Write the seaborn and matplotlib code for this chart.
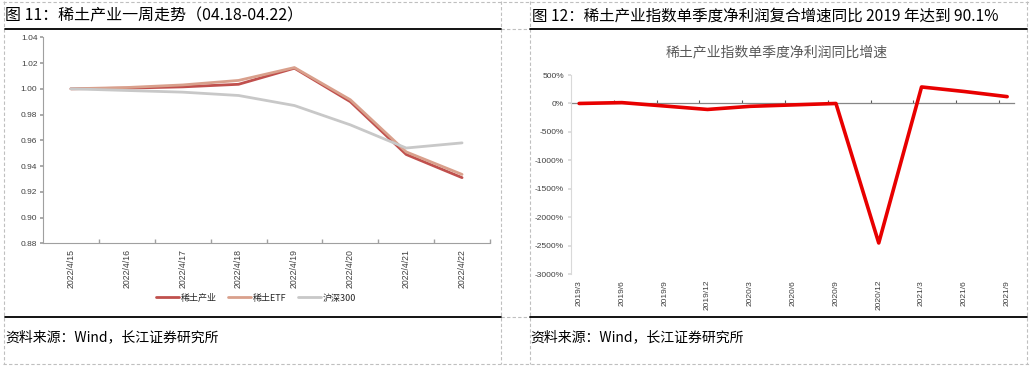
import matplotlib
matplotlib.use("Agg")
import pandas as pd
import seaborn as sns
import matplotlib.pyplot as plt
from matplotlib.lines import Line2D

# 图 11 数据：稀土产业一周走势（归一化）
days = ["2022/4/15", "2022/4/16", "2022/4/17", "2022/4/18",
        "2022/4/19", "2022/4/20", "2022/4/21", "2022/4/22"]
rare_earth = [1.000, 1.0005, 1.0015, 1.0035, 1.016, 0.990, 0.949, 0.931]
rare_earth_etf = [1.000, 1.001, 1.003, 1.0065, 1.0165, 0.9915, 0.951, 0.9335]
hs300 = [1.000, 0.9987, 0.9974, 0.9948, 0.987, 0.972, 0.954, 0.958]
series_names = ["稀土产业", "稀土ETF", "沪深300"]
series_colors = ["#C0504D", "#D9A08C", "#C8C8C8"]

# 图 12 数据：单季度净利润同比增速（%）
quarters = ["2019/3", "2019/6", "2019/9", "2019/12", "2020/3", "2020/6",
            "2020/9", "2020/12", "2021/3", "2021/6", "2021/9"]
profit_yoy = [0, 15, -45, -105, -50, -25, 0, -2450, 290, 210, 120]

W, H = 1032, 369

sns.set_theme(style="white")
plt.rcParams["font.family"] = ["Liberation Sans", "Noto Sans CJK SC", "DejaVu Sans"]
plt.rcParams["axes.unicode_minus"] = False

fig = plt.figure(figsize=(W / 100, H / 100), dpi=100)


def fx(px):
    return px / W


def fy(py):
    return 1 - py / H


def hline(x0, x1, y, **kw):
    fig.add_artist(Line2D([fx(x0), fx(x1)], [fy(y), fy(y)], transform=fig.transFigure, **kw))


def vline(x, y0, y1, **kw):
    fig.add_artist(Line2D([fx(x), fx(x)], [fy(y0), fy(y1)], transform=fig.transFigure, **kw))


# 外框（虚线）
dash = dict(color="#BFBFBF", lw=0.8, ls=(0, (3, 2)))
hline(3, 1029, 1.5, **dash)
hline(3, 1029, 364, **dash)
vline(4, 1, 364, **dash)
vline(501, 1, 364, **dash)
vline(530, 1, 364, **dash)
vline(1027, 1, 364, **dash)
hline(501, 530, 28.5, **dash)
hline(501, 530, 317, **dash)

# 标题与分隔线
cjk = ["Noto Sans CJK SC", "DejaVu Sans"]
fig.text(fx(5), fy(16), "图 11：稀土产业一周走势（04.18-04.22）", fontsize=11.5,
         family=cjk, va="center", ha="left", color="black")
fig.text(fx(532), fy(16), "图 12：稀土产业指数单季度净利润复合增速同比 2019 年达到 90.1%",
         fontsize=11.2, family=cjk, va="center", ha="left", color="black")
hline(5, 501, 28.5, color="black", lw=1.3)
hline(530, 1027, 28.5, color="black", lw=1.3)
hline(5, 501, 317, color="black", lw=1.3)
hline(530, 1027, 317, color="black", lw=1.3)
fig.text(fx(5), fy(337), "资料来源：Wind，长江证券研究所", fontsize=10,
         family=cjk, va="center", ha="left", color="black")
fig.text(fx(530), fy(337), "资料来源：Wind，长江证券研究所", fontsize=10,
         family=cjk, va="center", ha="left", color="black")

# ---------- 左图 ----------
ax1 = fig.add_axes([fx(43), fy(243.3), fx(490) - fx(43), (243.3 - 37.3) / H])
df1 = pd.DataFrame({
    "date": days * 3,
    "value": rare_earth + rare_earth_etf + hs300,
    "series": [n for n in series_names for _ in days],
})
sns.lineplot(data=df1, x="date", y="value", hue="series", hue_order=series_names,
             palette=series_colors, linewidth=2, sort=False, ax=ax1)
ax1.set_xlim(-0.5, len(days) - 0.5)
ax1.set_ylim(0.88, 1.04)
ax1.set_yticks([0.88 + 0.02 * i for i in range(9)])
ax1.set_yticklabels([f"{0.88 + 0.02 * i:.2f}" for i in range(9)], fontsize=6, color="#404040")
ax1.set_xticks(range(len(days)))
ax1.set_xticklabels(days, rotation=90, fontsize=6.3, color="#404040")
ax1.set_xticks([i + 0.5 for i in range(len(days))], minor=True)
ax1.tick_params(axis="x", which="major", length=0, pad=4)
ax1.tick_params(axis="x", which="minor", direction="in", length=3, color="#A0A0A0", bottom=True)
ax1.tick_params(axis="y", length=2, color="#A0A0A0", left=True, pad=2)
ax1.set_xlabel("")
ax1.set_ylabel("")
for s in ["top", "right"]:
    ax1.spines[s].set_visible(False)
for s in ["left", "bottom"]:
    ax1.spines[s].set_color("#A0A0A0")
    ax1.spines[s].set_linewidth(0.8)
handles = [Line2D([], [], color=c, lw=2) for c in series_colors]
ax1.legend(handles, series_names, loc="center", ncol=3, frameon=False,
           bbox_to_anchor=(fx(256), fy(298)), bbox_transform=fig.transFigure,
           handlelength=2.6, handletextpad=0.2, columnspacing=1.2,
           prop={"family": cjk, "size": 6.5})

# ---------- 右图 ----------
fig.text(fx(777), fy(52), "稀土产业指数单季度净利润同比增速", fontsize=10,
         family=cjk, ha="center", va="center", color="#595959")
ax2 = fig.add_axes([fx(571), fy(274.3), fx(1014) - fx(571), (274.3 - 75) / H])
df2 = pd.DataFrame({"quarter": quarters, "yoy": profit_yoy})
sns.lineplot(data=df2, x="quarter", y="yoy", color="#E80000", linewidth=2.6,
             sort=False, ax=ax2)
ax2.set_xlim(-0.19, len(quarters) - 1 + 0.16)
ax2.set_ylim(-3000, 500)
ax2.set_yticks(range(-3000, 501, 500))
ax2.set_yticklabels([f"{v}%" for v in range(-3000, 501, 500)], fontsize=6, color="#404040")
ax2.tick_params(axis="y", length=2, color="#D9D9D9", left=True, pad=3)
ax2.set_xlabel("")
ax2.set_ylabel("")
for s in ["top", "right"]:
    ax2.spines[s].set_visible(False)
ax2.spines["left"].set_color("#D9D9D9")
ax2.spines["left"].set_linewidth(0.8)
ax2.spines["bottom"].set_position(("data", 0))
ax2.spines["bottom"].set_color("#868686")
ax2.spines["bottom"].set_linewidth(0.9)
ax2.spines["bottom"].set_zorder(1)
ax2.set_xticks([i - 0.19 for i in range(1, len(quarters))])
ax2.set_xticklabels([])
ax2.tick_params(axis="x", direction="in", length=2.5, width=0.8, color="#595959", bottom=True)
sec = ax2.secondary_xaxis("bottom")
sec.set_xticks(range(len(quarters)))
sec.set_xticklabels(quarters, rotation=90, fontsize=6, color="#404040")
sec.tick_params(length=0, pad=4)
sec.spines["bottom"].set_visible(False)

fig.savefig("out.png", dpi=100)
